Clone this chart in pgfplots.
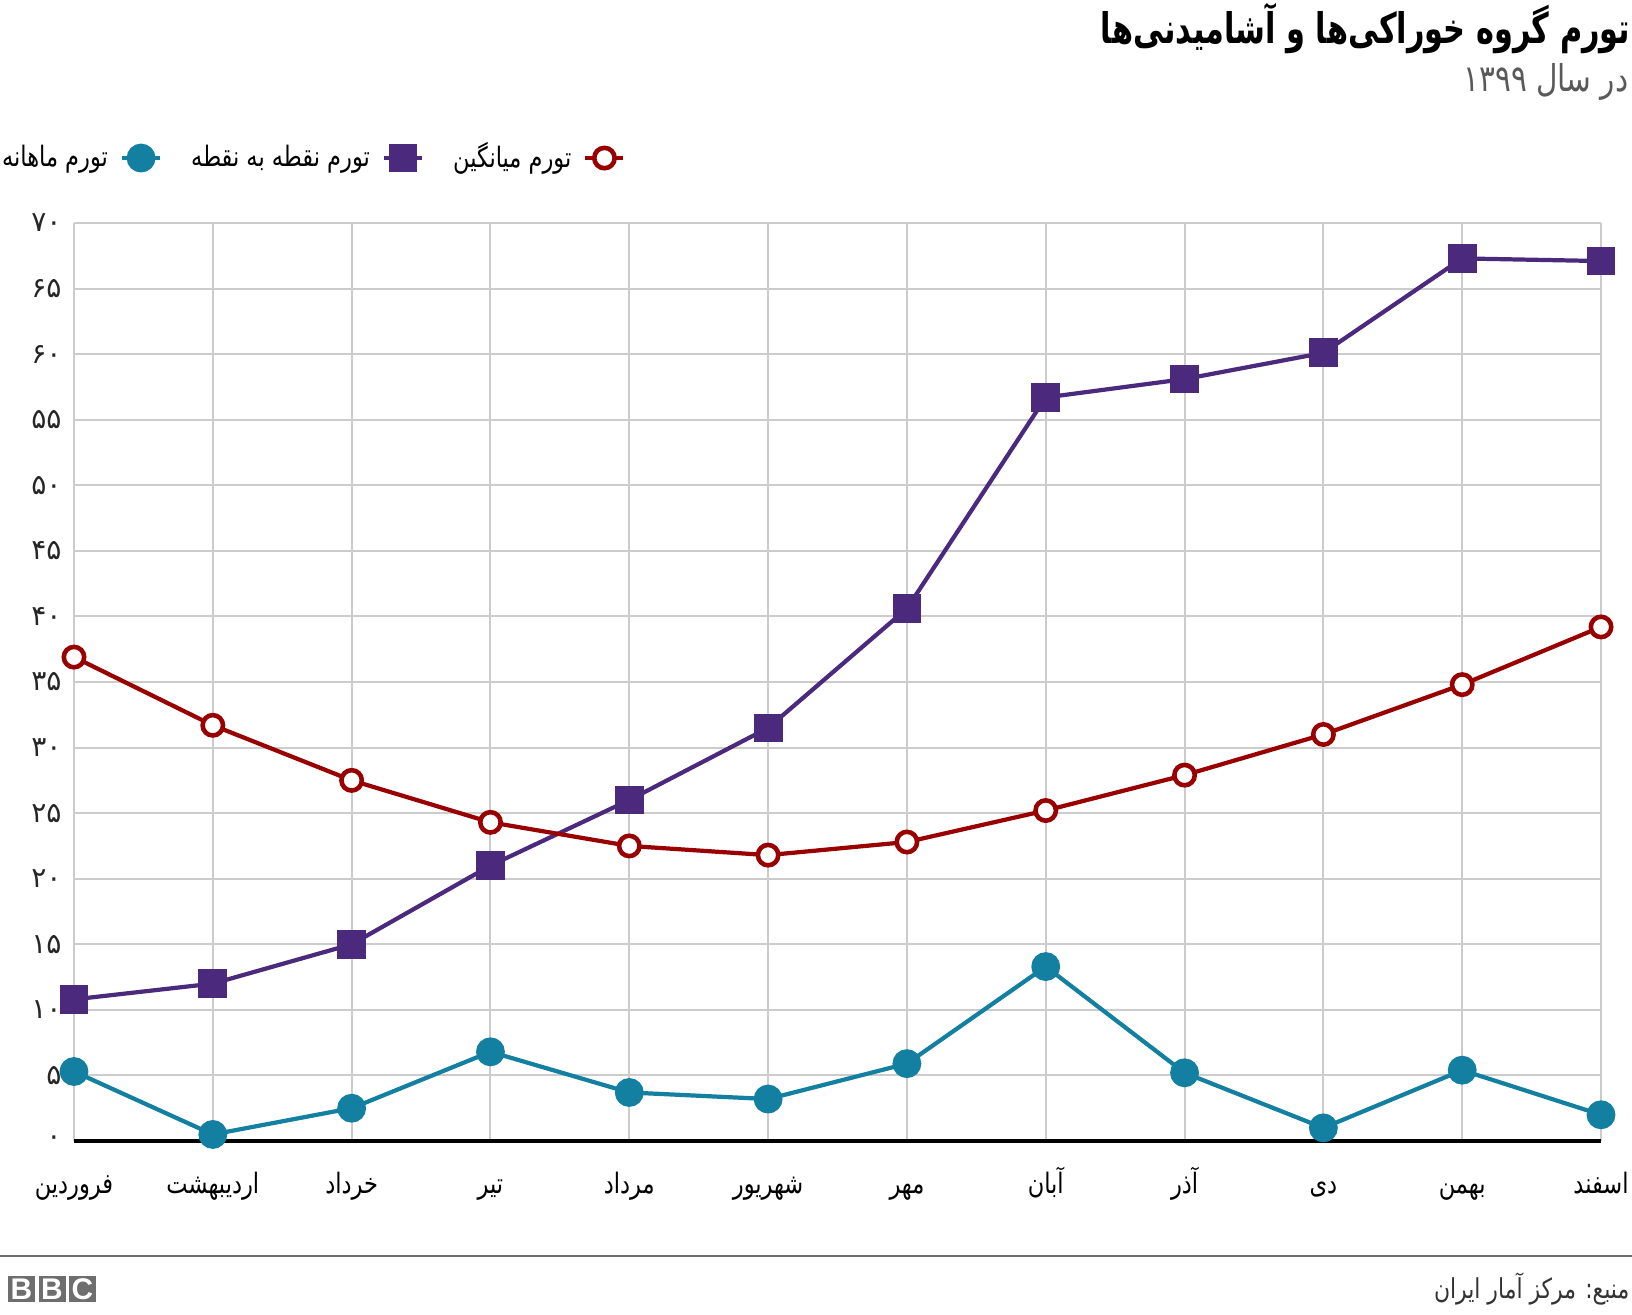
\documentclass[border=0pt]{standalone}
\usepackage{pgfplots}
\pgfplotsset{compat=1.18}
\usepackage{pgfplotstable}
\usepackage{fontspec}
\setmainfont{Liberation Sans}
\TeXXeTstate=1
\newfontfamily\fa[Script=Arabic]{DejaVu Sans}
\newfontfamily\fac[Script=Arabic, FakeStretch=0.8]{DejaVu Sans}
\newfontfamily\fat[Script=Arabic, FakeStretch=0.72]{DejaVu Sans}
\definecolor{cteal}{HTML}{1380A1}
\definecolor{cpurple}{HTML}{4B2A7E}
\definecolor{cred}{HTML}{990000}
\definecolor{cgrid}{HTML}{CCCCCC}
\definecolor{cbbc}{HTML}{6E6E6E}

\pgfplotstableread{
x   mon   pp    avg
0   5.3   10.8  36.9
1   0.5   12.0  31.7
2   2.5   15.0  27.5
3   6.8   21.0  24.3
4   3.7   26.0  22.5
5   3.2   31.5  21.8
6   5.9   40.6  22.8
7   13.3  56.7  25.2
8   5.2   58.1  27.9
9   1.0   60.1  31.0
10  5.4   67.3  34.8
11  2.0   67.1  39.2
}\data

\begin{document}
\begin{tikzpicture}
\path[use as bounding box] (-0.74,-1.73) rectangle (15.58,11.41);
\begin{axis}[
  at={(0,0)}, anchor=south west,
  width=15.27cm, height=9.18cm, scale only axis,
  xmin=0, xmax=11, ymin=0, ymax=70,
  clip=false,
  axis line style={draw=none},
  major tick length=0pt,
  grid=major,
  major grid style={cgrid, line width=0.55pt},
  xtick={0,...,11},
  xticklabels={{\beginR فروردین\endR},{\beginR اردیبهشت\endR},{\beginR خرداد\endR},{\beginR تیر\endR},{\beginR مرداد\endR},{\beginR شهریور\endR},{\beginR مهر\endR},{\beginR آبان\endR},{\beginR آذر\endR},{\beginR دی\endR},{\beginR بهمن\endR},{\beginR اسفند\endR}},
  ytick={0,5,...,70},
  yticklabels={۰,۵,۱۰,۱۵,۲۰,۲۵,۳۰,۳۵,۴۰,۴۵,۵۰,۵۵,۶۰,۶۵,۷۰},
  xticklabel style={font=\fac\fontsize{8}{10}\selectfont, text=black, anchor=base, yshift=-5.2mm},
  yticklabel style={font=\fa\fontsize{8}{10}\selectfont, text=black!85, anchor=east, xshift=0mm},
  legend style={at={(-0.059,1.0708)}, anchor=west, draw=none, fill=none,
    font=\fac\fontsize{8}{10}\selectfont,
    /tikz/every even column/.append style={column sep=2.2mm},
    /tikz/every odd column/.append style={column sep=0.5mm}},
  legend columns=3,
  legend plot pos=right,
  legend cell align=right,
  legend image code/.code={\draw[mark repeat=2,mark phase=2] plot coordinates {(0cm,0cm) (0.19cm,0cm) (0.38cm,0cm)};},
]
\addplot[black, line width=1.4pt, forget plot] coordinates {(0,0) (11,0)};
\addplot[cteal, line width=1.2pt, mark=*, mark size=3.5pt, mark options={fill=cteal, draw=cteal}] table[x=x, y=mon] {\data};
\addlegendentry{\beginR تورم ماهانه\endR}
\addplot[cpurple, line width=1.2pt, mark=square*, mark size=3.5pt, mark options={fill=cpurple, draw=cpurple}] table[x=x, y=pp] {\data};
\addlegendentry{\beginR تورم نقطه به نقطه\endR}
\addplot[cred, line width=1.2pt, mark=*, mark size=2.9pt, mark options={fill=white, draw=cred, line width=1.3pt}] table[x=x, y=avg] {\data};
\addlegendentry{\beginR تورم میانگین\endR}
\end{axis}
% title, subtitle
\node[anchor=east, inner sep=0pt, font=\fat\bfseries\fontsize{12}{15}\selectfont] at (15.57,11.12) {\beginR تورم گروه خوراکی‌ها و آشامیدنی‌ها\endR};
\node[anchor=east, inner sep=0pt, text=black!65, font=\fac\fontsize{10.5}{13}\selectfont] at (15.55,10.59) {\beginR در سال ۱۳۹۹\endR};
% footer
\draw[cbbc, line width=0.6pt] (-0.74,-1.15) -- (15.58,-1.15);
\node[anchor=east, inner sep=0pt, text=black!80, font=\fac\fontsize{7.8}{10}\selectfont] at (15.56,-1.48) {\beginR منبع: مرکز آمار ایران\endR};
\foreach \i/\l in {0/B,1/B,2/C}{
  \fill[cbbc] (-0.66+\i*0.305,-1.61) rectangle ++(0.27,0.26);
  \node[text=white, font=\bfseries\fontsize{8.5}{9}\selectfont, inner sep=0pt] at (-0.525+\i*0.305,-1.48) {\l};
}
\end{tikzpicture}
\end{document}
